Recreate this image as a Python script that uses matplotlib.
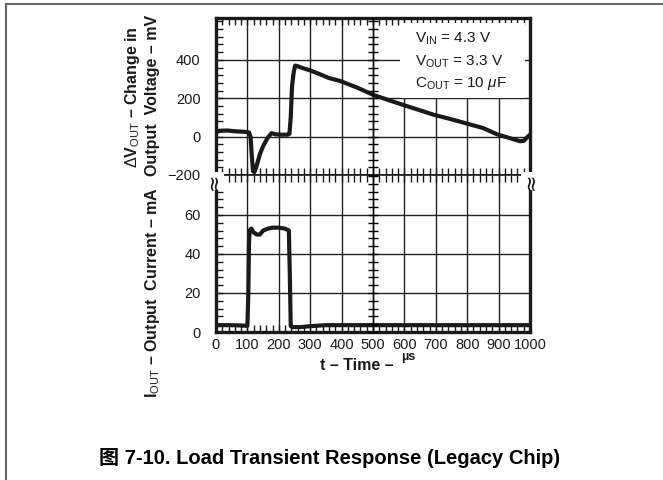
import numpy as np
import matplotlib
matplotlib.use('Agg')
import matplotlib.pyplot as plt
from matplotlib.ticker import MultipleLocator
from matplotlib.patches import Rectangle
from matplotlib.lines import Line2D

plt.rcParams['font.family'] = ['Liberation Sans', 'Noto Sans CJK SC', 'DejaVu Sans']
plt.rcParams['mathtext.fontset'] = 'custom'
plt.rcParams['mathtext.rm'] = 'Liberation Sans'
plt.rcParams['mathtext.it'] = 'Liberation Sans:italic'
plt.rcParams['mathtext.bf'] = 'Liberation Sans:bold'

# output voltage change, mV
t_v = [0, 15, 35, 60, 90, 105, 110, 114, 118, 122, 128, 140, 150, 165, 177, 190, 210, 228,
       234, 238, 242, 247, 252, 258, 280, 300, 331, 360, 395, 450, 500, 550, 600, 650, 691,
       750, 799, 850, 895, 930, 968, 980, 990, 1000]
dv = [25, 30, 32, 28, 25, 22, 0, -100, -180, -185, -160, -90, -50, -5, 18, 12, 10, 10,
      15, 100, 260, 330, 370, 368, 355, 345, 325, 305, 290, 255, 218, 190, 163, 137, 115,
      90, 68, 45, 12, -5, -24, -22, -5, 10]

# output current, mA
t_i = [0, 50, 100, 103, 105, 107, 112, 120, 130, 140, 150, 165, 180, 200, 220, 232, 235,
       238, 245, 270, 300, 350, 400, 500, 600, 700, 800, 900, 1000]
i_out = [3.5, 3.5, 3.2, 20, 45, 52, 53, 51, 50, 50, 52, 53, 53.5, 53.5, 53, 52, 30,
         3, 2.5, 2.5, 3, 3.5, 3.5, 3.5, 3.5, 3.5, 3.5, 3.5, 3.5]

x_ticks = [0, 100, 200, 300, 400, 500, 600, 700, 800, 900, 1000]
v_ticks = [-200, 0, 200, 400]
i_ticks = [0, 20, 40, 60]

W, H = 663, 480
fig = plt.figure(figsize=(W / 100, H / 100), dpi=100)

def box(x0, y0, x1, y1):
    return [x0 / W, 1 - y1 / H, (x1 - x0) / W, (y1 - y0) / H]

ax1 = fig.add_axes(box(216, 18, 530, 175))
ax2 = fig.add_axes(box(216, 175, 530, 332))

txt = '#1a1a1a'
for ax in (ax1, ax2):
    ax.set_xlim(0, 1000)
    ax.set_axisbelow(True)
    ax.grid(True, color='#222222', lw=1.0)
    ax.xaxis.set_major_locator(MultipleLocator(100))
    ax.xaxis.set_minor_locator(MultipleLocator(20))
    for s in ax.spines.values():
        s.set_linewidth(2.4)
        s.set_color('#1a1a1a')
    ax.tick_params(which='both', direction='in', top=True, right=True, colors='#1a1a1a',
                   labelcolor=txt, labelsize=10.5)
    ax.tick_params(which='major', length=5, width=1.0)
    ax.tick_params(which='minor', length=5, width=1.0)
    ax.tick_params(axis='y', pad=11)

ax1.set_ylim(-200, 618)
ax1.set_yticks(v_ticks)
ax1.set_yticklabels(['\u2212200' if v < 0 else str(v) for v in v_ticks])
ax1.yaxis.set_minor_locator(MultipleLocator(40))
ax1.tick_params(labelbottom=False)
ax1.spines['bottom'].set_linewidth(1.2)

ax2.set_ylim(0, 80.5)
ax2.set_yticks(i_ticks)
ax2.yaxis.set_minor_locator(MultipleLocator(4))
ax2.set_xticks(x_ticks)
ax2.tick_params(axis='x', pad=4)
ax2.spines['top'].set_linewidth(1.2)

# crossing ticks along the t = 500 line
for ax, step in ((ax1, 40), (ax2, 4)):
    tw = ax.twinx()
    tw.set_ylim(ax.get_ylim())
    for k in ('left', 'top', 'bottom'):
        tw.spines[k].set_visible(False)
    tw.spines['right'].set_position(('data', 500))
    tw.spines['right'].set_linewidth(1.0)
    tw.yaxis.set_minor_locator(MultipleLocator(step))
    tw.tick_params(which='both', direction='inout', length=7, width=1.0, labelright=False)
    tw.set_zorder(0.6)

ax1.add_patch(Rectangle((585, 200), 400, 390, facecolor='white', edgecolor='none', zorder=1))
ax1.plot(t_v, dv, color='#1a1a1a', lw=3, zorder=3, solid_joinstyle='round')
ax2.plot(t_i, i_out, color='#1a1a1a', lw=3, zorder=3, solid_joinstyle='round')

ax1.text(634, 508, 'V$_{\\rm IN}$ = 4.3 V', fontsize=11, color=txt, va='center', zorder=4)
ax1.text(634, 389, 'V$_{\\rm OUT}$ = 3.3 V', fontsize=11, color=txt, va='center', zorder=4)
ax1.text(634, 275, 'C$_{\\rm OUT}$ = 10 $\\mu$F', fontsize=11, color=txt, va='center', zorder=4)

# axis break marks
for xb in (214, 531):
    fig.text(xb / W, 1 - 181 / H, '\u2248', rotation=90, fontsize=15, ha='center', va='center',
             family='DejaVu Sans', color=txt,
             bbox=dict(facecolor='white', edgecolor='none', pad=0.0))

# y labels
fig.text(133 / W, 1 - 97 / H, '$\\Delta$V$_{\\rm OUT}$ \u2013 Change in', rotation=90,
         fontsize=11.5, fontweight='bold', ha='center', va='center', color=txt)
fig.text(152 / W, 1 - 95 / H, 'Output  Voltage \u2013 mV', rotation=90,
         fontsize=11.5, fontweight='bold', ha='center', va='center', color=txt)
fig.text(152 / W, 1 - 293 / H, 'I$_{\\rm OUT}$ \u2013 Output  Current \u2013 mA', rotation=90,
         fontsize=11.5, fontweight='bold', ha='center', va='center', color=txt)

# x label
fig.text(398 / W, 1 - 366 / H, 't \u2013 Time \u2013 ', fontsize=11.5, fontweight='bold',
         ha='right', va='center', color=txt)
fig.text(401 / W, 1 - 357 / H, '\u00b5s', fontsize=9, fontweight='bold',
         ha='left', va='center', color=txt)

# caption
fig.text(330 / W, 1 - 458 / H, '图 7-10. Load Transient Response (Legacy Chip)',
         fontsize=14.5, fontweight='bold', ha='center', va='center', color='black')

# page frame
fig.add_artist(Line2D([6 / W, 1], [1 - 4 / H, 1 - 4 / H], color='#666666', lw=1.5))
fig.add_artist(Line2D([6 / W, 6 / W], [0, 1 - 4 / H], color='#666666', lw=1.5))

fig.savefig('out.png', dpi=100)
